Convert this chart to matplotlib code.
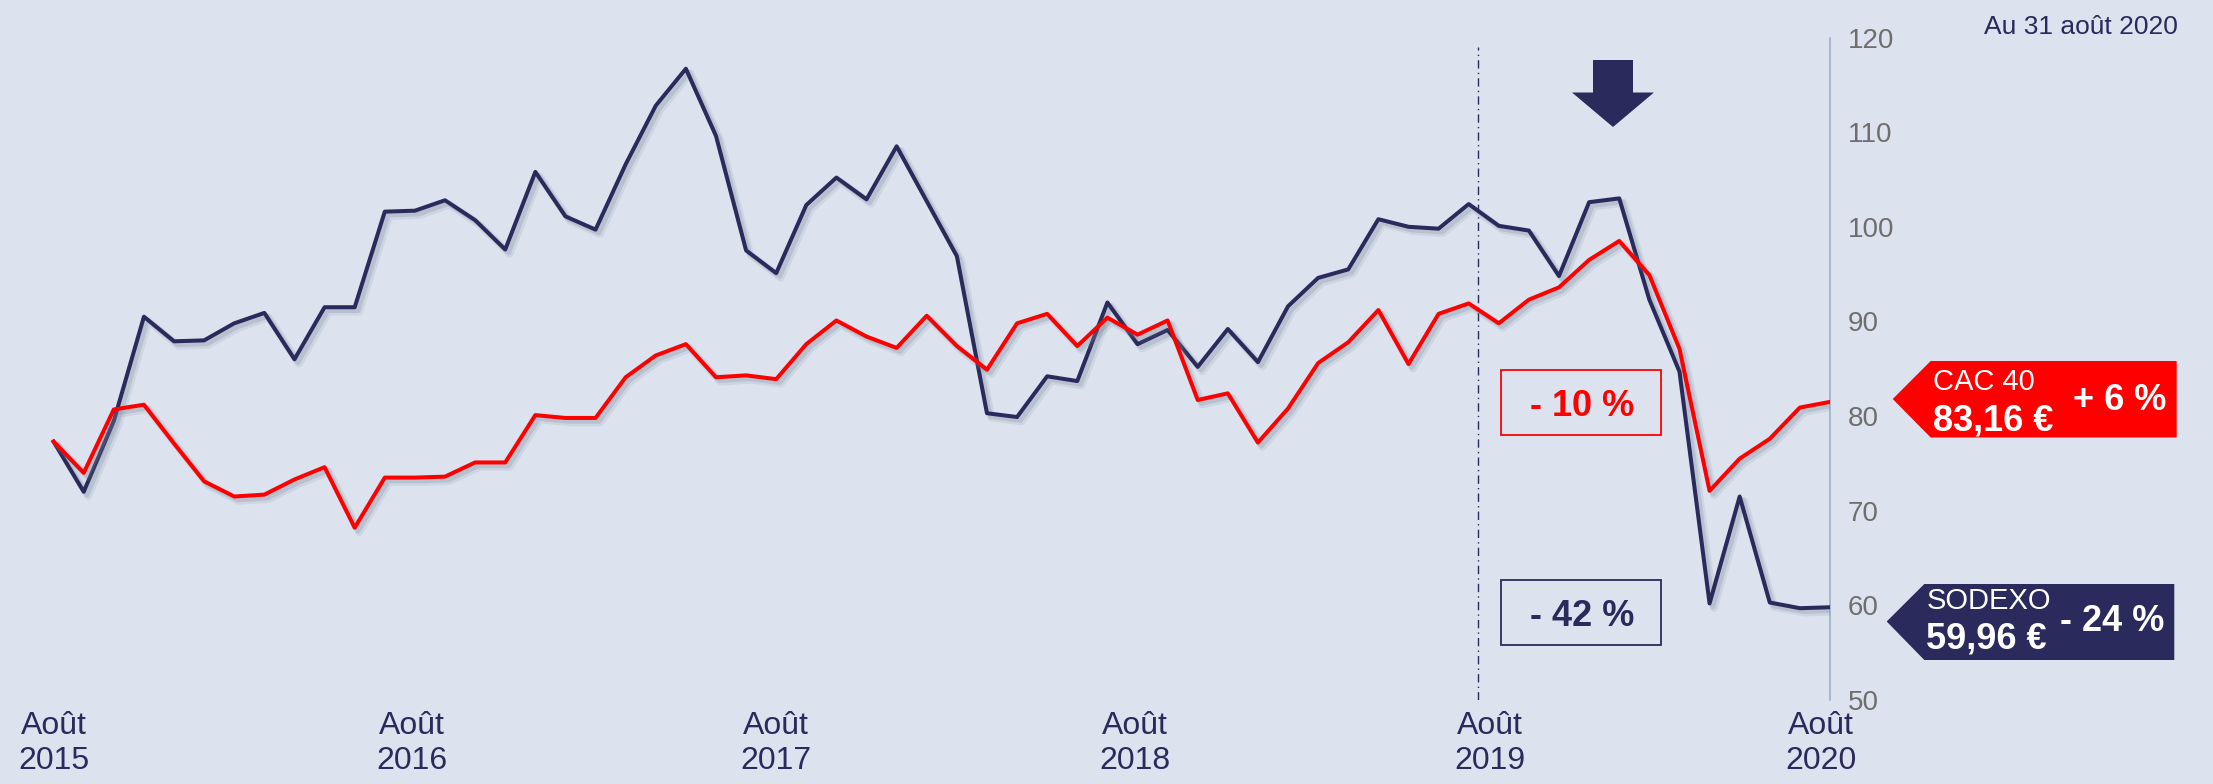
import matplotlib.pyplot as plt
import matplotlib.patheffects as pe
from matplotlib.patches import Polygon, Rectangle
import numpy as np

plt.rcParams['font.family'] = ['Liberation Sans', 'DejaVu Sans']

FOND = '#DCE3EE'
MARINE = '#2B2A5C'
ROUGE = '#FF0000'
GRIS = '#6E6E6E'
AXE = '#9DB0C8'

# cours mensuels, de août 2015 à août 2020
sodexo = [77.3, 72.0, 79.5, 90.5, 87.9, 88.0, 89.8, 90.9, 86.0, 91.5,
          91.5, 101.6, 101.7, 102.8, 100.7, 97.6, 105.8, 101.1, 99.7, 106.6,
          112.8, 116.7, 109.6, 97.5, 95.1, 102.3, 105.2, 102.9, 108.5, 102.7,
          96.9, 80.3, 79.9, 84.2, 83.7, 92.0, 87.6, 89.1, 85.2, 89.2,
          85.7, 91.6, 94.6, 95.5, 100.8, 100.0, 99.8, 102.4, 100.1, 99.6,
          94.8, 102.6, 103.0, 92.3, 84.7, 60.2, 71.5, 60.3, 59.7, 59.8]
cac40 = [77.3, 74.0, 80.7, 81.2, 77.1, 73.1, 71.5, 71.7, 73.3, 74.6,
         68.2, 73.5, 73.5, 73.6, 75.1, 75.1, 80.1, 79.8, 79.8, 84.1,
         86.4, 87.6, 84.1, 84.3, 83.9, 87.6, 90.1, 88.4, 87.2, 90.6,
         87.4, 84.9, 89.8, 90.8, 87.4, 90.4, 88.6, 90.1, 81.7, 82.4,
         77.2, 80.8, 85.6, 87.8, 91.2, 85.5, 90.8, 91.9, 89.8, 92.3,
         93.6, 96.5, 98.5, 94.9, 87.1, 72.1, 75.5, 77.6, 80.9, 81.5]
etiquettes_x = ['Août\n2015', 'Août\n2016', 'Août\n2017',
                'Août\n2018', 'Août\n2019', 'Août\n2020']
graduations_y = [50, 60, 70, 80, 90, 100, 110, 120]

W, H = 2213, 784
fig = plt.figure(figsize=(W / 100, H / 100), dpi=100, facecolor=FOND)


def pf(x, y):
    # pixels de la figure (origine en haut a gauche) -> fraction
    return (x / W, 1 - y / H)


ax = fig.add_axes([0, 84 / H, 1830 / W, 662.5 / H])
ax.set_facecolor(FOND)
mois = np.arange(len(sodexo))

# ombre portee un peu floue : deux couches decalees
ombre = [pe.SimpleLineShadow(offset=(3.2, -3.2), shadow_color='#7d889e',
                             alpha=0.15, linewidth=5.5),
         pe.SimpleLineShadow(offset=(2.4, -2.4), shadow_color='#7d889e',
                             alpha=0.25, linewidth=3.5),
         pe.Normal()]
ax.plot(mois, sodexo, color=MARINE, lw=2.9, solid_joinstyle='round',
        path_effects=ombre, zorder=3)
ax.plot(mois, cac40, color=ROUGE, lw=2.9, solid_joinstyle='round',
        path_effects=ombre, zorder=4)

ax.axvline(47.3, ymin=0, ymax=0.985, color=MARINE, lw=1,
           linestyle=(0, (6, 3, 1, 3)), zorder=2)

ax.set_xlim(-53.6 / 30.1, 59)
ax.set_ylim(50, 120)
for s in ('left', 'top', 'bottom'):
    ax.spines[s].set_visible(False)
ax.spines['right'].set_color(AXE)
ax.spines['right'].set_linewidth(1.2)

ax.yaxis.tick_right()
ax.set_yticks(graduations_y)
ax.tick_params(axis='y', length=0, pad=13, labelsize=20, labelcolor=GRIS)
ax.set_xticks([0, 11.9, 24, 35.9, 47.7, 58.7])
ax.set_xticklabels(etiquettes_x)
ax.tick_params(axis='x', length=0, pad=8, labelsize=23, labelcolor=MARINE)

# fleche vers le bas
fleche = [(1593, 60), (1633, 60), (1633, 92.5), (1654, 92.5), (1613, 127),
          (1572, 92.5), (1593, 92.5)]
fig.add_artist(Polygon([pf(*p) for p in fleche], closed=True,
                       transform=fig.transFigure, color=MARINE, lw=0))

# encadres de variation
for y0, txt, col, base in [(370, '- 10 %', ROUGE, 416), (580, '- 42 %', MARINE, 626)]:
    fig.add_artist(Rectangle(pf(1501, y0 + 65), 160 / W, 65 / H,
                             transform=fig.transFigure, fill=False,
                             edgecolor=col, lw=1.3))
    fig.text(*pf(1582, base), txt, color=col, fontsize=26, fontweight='bold',
             ha='center', va='baseline')

# etiquettes de fin de courbe
for tip, x0, x1, y0, y1, col, nom, prix, var, yb in [
        ((1892.7, 399), 1930.7, 2176.7, 361, 437.5, ROUGE,
         'CAC 40', '83,16 €', '+ 6 %', (390, 430, 410)),
        ((1886.7, 621.5), 1924.3, 2174.3, 584, 660, MARINE,
         'SODEXO', '59,96 €', '- 24 %', (609, 649, 631))]:
    pts = [tip, (x0, y0), (x1, y0), (x1, y1), (x0, y1)]
    fig.add_artist(Polygon([pf(*p) for p in pts], closed=True,
                           transform=fig.transFigure, color=col, lw=0))
    fig.text(*pf(x0 + 2, yb[0]), nom, color='white', fontsize=21, va='baseline')
    fig.text(*pf(x0 + 2, yb[1]), prix, color='white', fontsize=26,
             fontweight='bold', va='baseline')
    fig.text(*pf(x1 - 10, yb[2]), var, color='white', fontsize=26,
             fontweight='bold', va='baseline', ha='right')

fig.text(*pf(2178, 34), 'Au 31 août 2020', color=MARINE, fontsize=19,
         ha='right', va='baseline')

fig.savefig('out.png', dpi=100, facecolor=FOND)
